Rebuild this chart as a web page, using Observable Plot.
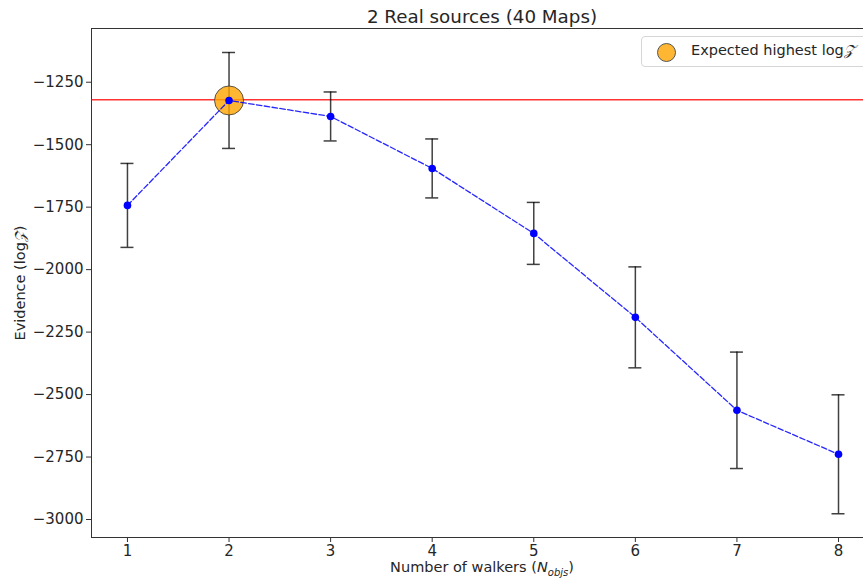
<!DOCTYPE html>
<html><head><meta charset="utf-8">
<script src="https://cdn.jsdelivr.net/npm/d3@7"></script>
<script src="https://cdn.jsdelivr.net/npm/@observablehq/plot@0.6"></script>
<style>
body{margin:0;background:#fff;overflow:hidden;font-family:"DejaVu Sans",sans-serif;color:#262626;}
#chart{position:relative;width:863px;height:582px;overflow:hidden;}
#chart svg{position:absolute;left:0;top:0;}
.lbl{position:absolute;white-space:nowrap;font-size:14.5px;}
#title{font-size:18.3px;left:482px;top:6px;transform:translateX(-50%);}
#xlabel{left:482px;top:559px;transform:translateX(-50%);}
#ylabel{left:20px;top:283px;transform:translate(-50%,-50%) rotate(-90deg);}
#legend{position:absolute;left:641px;top:36px;width:240px;height:29px;border:1px solid #d6d6d6;border-radius:4px;background:#fff;}
#legend .sw{position:absolute;left:15px;top:6px;width:17px;height:17px;border-radius:50%;background:rgba(255,165,0,0.8);border:1px solid #555;}
#legend .tx{position:absolute;left:49px;top:5px;font-size:14.5px;}
.z{font-family:"DejaVu Serif",serif;font-style:italic;}
</style>
</head><body><div id="chart"></div>
<script>
const walkers = [1, 2, 3, 4, 5, 6, 7, 8];
const evidence = [-1743, -1323, -1387, -1595, -1855, -2191, -2563, -2739];
const evidenceErr = [168, 192, 98, 118, 124, 202, 233, 238];
const bestWalkers = [2];
const bestEvidence = [-1323];
const referenceEvidence = [-1320];
const xTicks = [1, 2, 3, 4, 5, 6, 7, 8];
const yTicks = [-3000, -2750, -2500, -2250, -2000, -1750, -1500, -1250];
const xDomain = [0.646, 8.246];
const yDomain = [-3072, -1035];

const rows = walkers.map((w, i) => ({w, e: evidence[i], lo: evidence[i] - evidenceErr[i], hi: evidence[i] + evidenceErr[i]}));
const best = bestWalkers.map((w, i) => ({w, e: bestEvidence[i]}));
const capHalf = 0.064;
const fmt = d => (d < 0 ? "\u2212" + Math.abs(d) : String(d));

const plot = Plot.plot({
  width: 863,
  height: 582,
  marginLeft: 91,
  marginRight: 0,
  marginTop: 28,
  marginBottom: 45,
  style: {fontFamily: "DejaVu Sans", fontSize: "15px", color: "#262626", background: "transparent"},
  x: {domain: xDomain, ticks: xTicks, tickFormat: fmt, label: null},
  y: {domain: yDomain, ticks: yTicks, tickFormat: fmt, label: null},
  marks: [
    Plot.axisX({ticks: xTicks, tickSize: 5, tickPadding: 3, stroke: "#333", fontSize: 15, tickFormat: fmt, label: null}),
    Plot.axisY({ticks: yTicks, tickSize: 5, tickPadding: 3, stroke: "#333", fontSize: 15, tickFormat: fmt, label: null}),
    Plot.ruleX([xDomain[0]], {stroke: "#333", strokeWidth: 1}),
    Plot.ruleY([yDomain[0], yDomain[1]], {stroke: "#333", strokeWidth: 1}),
    Plot.ruleY(referenceEvidence, {stroke: "red", strokeOpacity: 0.8, strokeWidth: 1.5}),
    Plot.ruleX(rows, {x: "w", y1: "lo", y2: "hi", stroke: "#000", strokeOpacity: 0.75, strokeWidth: 1.5}),
    Plot.ruleY(rows, {y: "lo", x1: d => d.w - capHalf, x2: d => d.w + capHalf, stroke: "#000", strokeOpacity: 0.75, strokeWidth: 1.5}),
    Plot.ruleY(rows, {y: "hi", x1: d => d.w - capHalf, x2: d => d.w + capHalf, stroke: "#000", strokeOpacity: 0.75, strokeWidth: 1.5}),
    Plot.dot(best, {x: "w", y: "e", r: 14.5, fill: "orange", fillOpacity: 0.8, stroke: "#333", strokeOpacity: 0.8, strokeWidth: 1}),
    Plot.line(rows, {x: "w", y: "e", stroke: "blue", strokeWidth: 1.3, strokeDasharray: "5.5,2.4", strokeOpacity: 0.85}),
    Plot.dot(rows, {x: "w", y: "e", r: 3.8, fill: "blue"})
  ]
});
const chart = document.getElementById("chart");
chart.appendChild(plot);
chart.insertAdjacentHTML("beforeend",
  '<div id="title" class="lbl">2 Real sources (40 Maps)</div>' +
  '<div id="xlabel" class="lbl">Number of walkers (<i>N</i><sub style="font-size:10px;font-style:italic">objs</sub>)</div>' +
  '<div id="ylabel" class="lbl">Evidence (log<span class="z">𝒵</span>)</div>' +
  '<div id="legend"><div class="sw"></div><div class="tx">Expected highest log<span class="z">𝒵</span></div></div>');
</script>
</body></html>
